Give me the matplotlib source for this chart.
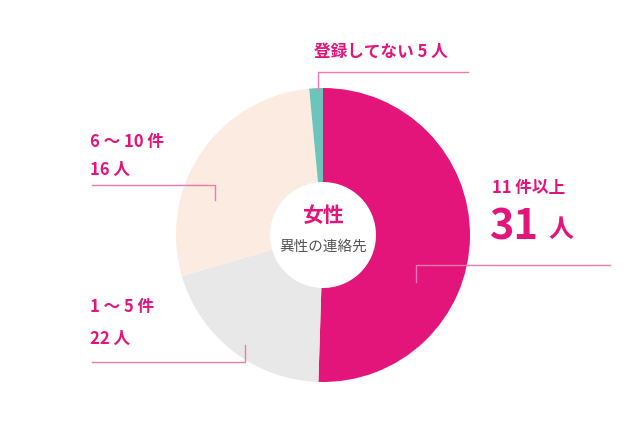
import matplotlib
matplotlib.use("Agg")
import matplotlib.pyplot as plt

plt.rcParams["font.family"] = ["Noto Sans CJK JP", "DejaVu Sans"]

# slice shares as drawn (clockwise from top)
categories = ["11件以上", "1～5件", "6～10件", "登録してない"]
shares = [50.5, 20.0, 28.0, 1.5]
colors = ["#E4157A", "#E8E8E8", "#FCEBE1", "#6CC5BB"]
PINK = "#E4157A"
LINE = "#F07AAE"

W, H = 636, 426
fig = plt.figure(figsize=(W / 100, H / 100), dpi=100)
ax = fig.add_axes([0, 0, 1, 1])

cx, cy = 323, H - 235
ax.pie(shares, colors=colors, startangle=90, counterclock=False,
       center=(cx, cy), radius=147, frame=True,
       wedgeprops=dict(width=147 - 53, linewidth=0))
ax.set_xlim(0, W)
ax.set_ylim(0, H)
ax.set_aspect("equal")
ax.axis("off")

def Y(py):
    return H - py

# leader lines
lw = 1.0
for xs, ys in [([318, 318, 468], [90, 72, 72]),
               ([92, 215, 215], [185, 185, 200]),
               ([416, 416, 610], [282, 265, 265]),
               ([92, 245, 245], [362, 362, 345])]:
    ax.plot(xs, [Y(v) for v in ys], color=LINE, lw=lw, zorder=5)

# labels
ax.text(314, Y(52), "登録してない 5 人", color=PINK, fontsize=12,
        fontweight="bold", va="center")
ax.text(90, Y(142), "6 ～ 10 件", color=PINK, fontsize=12, fontweight="bold", va="center")
ax.text(90, Y(170), "16 人", color=PINK, fontsize=12, fontweight="bold", va="center")
ax.text(492, Y(188), "11 件以上", color=PINK, fontsize=12, fontweight="bold", va="center")
ax.text(490, Y(228), "31", color=PINK, fontsize=30, fontweight="bold", va="center")
ax.text(548, Y(230), "人", color=PINK, fontsize=18, fontweight="bold", va="center")
ax.text(90, Y(307), "1 ～ 5 件", color=PINK, fontsize=12, fontweight="bold", va="center")
ax.text(90, Y(339), "22 人", color=PINK, fontsize=12, fontweight="bold", va="center")

ax.text(cx, Y(216), "女性", color=PINK, fontsize=15, fontweight="bold",
        ha="center", va="center")
ax.text(cx, Y(247), "異性の連絡先", color="#555555", fontsize=10.5,
        ha="center", va="center")

fig.savefig("out.png", dpi=100)
